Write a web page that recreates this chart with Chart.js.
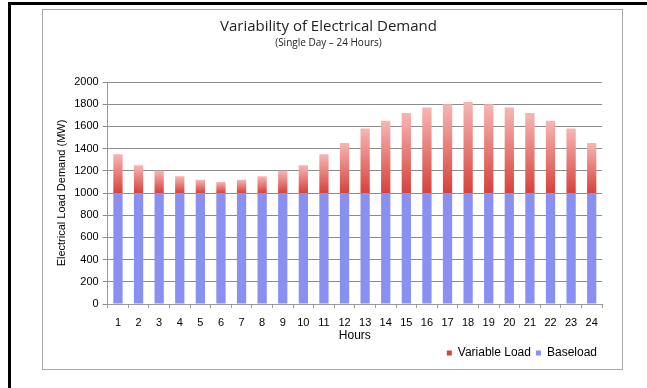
<!DOCTYPE html>
<html>
<head>
<meta charset="utf-8">
<script src="https://cdn.jsdelivr.net/npm/chart.js@4"></script>
<style>
  body { margin: 0; background: #fff; width: 647px; height: 388px; overflow: hidden; position: relative; }
  /* black page edge, top and left */
  #edge { position: absolute; left: 8px; top: 2px; right: 0; bottom: 0; border-top: 3px solid #000; border-left: 3px solid #000; }
  /* grey chart frame */
  #frame { position: absolute; left: 42px; top: 9px; width: 579px; height: 359px; border: 1px solid #a8a8a8; }
</style>
</head>
<body>
<div id="edge"></div>
<div id="frame"><canvas id="demand"></canvas></div>
<script>
// hourly demand, MW
const hours = ["1","2","3","4","5","6","7","8","9","10","11","12","13","14","15","16","17","18","19","20","21","22","23","24"];
const baseload = [1000,1000,1000,1000,1000,1000,1000,1000,1000,1000,1000,1000,1000,1000,1000,1000,1000,1000,1000,1000,1000,1000,1000,1000];
const variableLoad = [350,250,200,150,120,100,120,150,200,250,350,450,580,650,720,770,800,820,800,770,720,650,580,450];
const yTicks = [0,200,400,600,800,1000,1200,1400,1600,1800,2000];

// light-to-dark red fade on each variable bar
function variableFill(ctx) {
  const chart = ctx.chart;
  if (!chart.chartArea || ctx.dataIndex === undefined) return "#e06a6a";
  const y = chart.scales.y;
  const i = ctx.dataIndex;
  const top = y.getPixelForValue(baseload[i] + variableLoad[i]);
  const bot = y.getPixelForValue(baseload[i]);
  const g = chart.ctx.createLinearGradient(0, top, 0, bot);
  g.addColorStop(0, "#f7b6b4");
  g.addColorStop(1, "#d6423b");
  return g;
}

const sans = "'Liberation Sans', Arial, sans-serif";
const tickFont = { family: sans, size: 11, lineHeight: 1 };

new Chart(document.getElementById("demand"), {
  type: "bar",
  data: {
    labels: hours,
    datasets: [
      {
        label: "Baseload",
        data: baseload,
        backgroundColor: "#8a90f2",
        categoryPercentage: 1,
        barPercentage: 0.45,
      },
      {
        label: "Variable Load",
        data: variableLoad,
        backgroundColor: variableFill,
        categoryPercentage: 1,
        barPercentage: 0.45,
      },
    ],
  },
  options: {
    responsive: true,
    maintainAspectRatio: false,
    animation: false,
    layout: { padding: { top: 8, left: 12, right: 20, bottom: 0 } },
    plugins: {
      title: {
        display: true,
        text: "Variability of Electrical Demand",
        color: "#222",
        font: { family: "'Open Sans', sans-serif", size: 15, weight: "normal" },
        padding: { top: 0, bottom: 1 },
      },
      subtitle: {
        display: true,
        text: "(Single Day – 24 Hours)",
        color: "#222",
        font: { family: "'Open Sans', sans-serif", size: 10 },
        padding: { top: 0, bottom: 33 },
      },
      legend: {
        position: "bottom",
        align: "end",
        reverse: true,
        labels: {
          boxWidth: 5,
          boxHeight: 5,
          padding: 5,
          color: "#000",
          font: { family: sans, size: 12 },
        },
      },
      tooltip: { enabled: false },
    },
    scales: {
      x: {
        stacked: true,
        grid: { display: true, drawOnChartArea: false, drawTicks: true, tickLength: 4, color: "#999" },
        border: { color: "#999" },
        ticks: { color: "#000", font: tickFont, maxRotation: 0, padding: 9 },
        title: {
          display: true,
          text: "Hours",
          color: "#000",
          font: { family: sans, size: 12, lineHeight: 1 },
          padding: { top: -7, bottom: 0 },
        },
      },
      y: {
        stacked: true,
        min: 0,
        max: 2000,
        afterBuildTicks: (axis) => { axis.ticks = yTicks.map((v) => ({ value: v })); },
        grid: { color: "#8c8c8c", tickLength: 5 },
        border: { color: "#999" },
        ticks: { color: "#000", font: tickFont, padding: 4, callback: (v) => String(v) },
        title: {
          display: true,
          text: "Electrical Load Demand (MW)",
          color: "#000",
          font: { family: sans, size: 11 },
          padding: { top: 0, bottom: 2 },
        },
      },
    },
  },
});
</script>
</body>
</html>
